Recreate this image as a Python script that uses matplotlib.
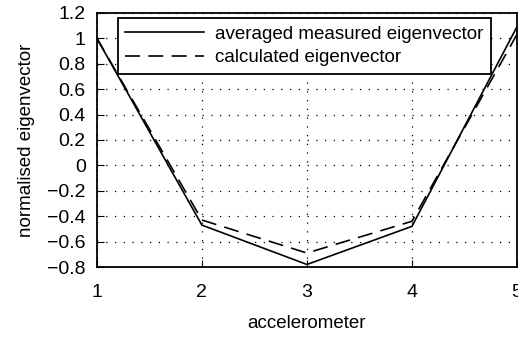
import matplotlib
matplotlib.use("Agg")
import matplotlib.pyplot as plt

plt.rcParams['font.family'] = ['Liberation Sans', 'DejaVu Sans']

# accelerometer positions and mode shape values
accelerometer = [1, 2, 3, 4, 5]
measured = [1.0, -0.47, -0.78, -0.48, 1.09]
calculated = [1.0, -0.43, -0.69, -0.44, 1.03]

fig = plt.figure(figsize=(5.18, 3.38), dpi=100)
ax = fig.add_axes([0.187, 0.21, 0.811, 0.752])

ax.plot(accelerometer, measured, color='black', lw=1.2, ls='-',
        label='averaged measured eigenvector')
ax.plot(accelerometer, calculated, color='black', lw=1.2, ls=(0, (9, 5)),
        label='calculated eigenvector')

ax.set_xlim(1, 5)
ax.set_ylim(-0.8, 1.2)
ax.set_xticks([1, 2, 3, 4, 5])
ax.set_yticks([-0.8, -0.6, -0.4, -0.2, 0, 0.2, 0.4, 0.6, 0.8, 1, 1.2])
ax.set_yticklabels(['\u22120.8', '\u22120.6', '\u22120.4', '\u22120.2', '0',
                    '0.2', '0.4', '0.6', '0.8', '1', '1.2'])
ax.grid(True, color='black', ls=(0, (1, 6)), lw=0.9)
ax.tick_params(direction='in', labelsize=14, length=5, color='black')
ax.tick_params(axis='x', pad=12)
ax.tick_params(axis='y', pad=8)
for s in ax.spines.values():
    s.set_linewidth(1.3)

ax.set_xlabel('accelerometer', fontsize=13.5, labelpad=10)
ax.set_ylabel('normalised eigenvector', fontsize=13.5, labelpad=9)

leg = ax.legend(loc='upper left', bbox_to_anchor=(0.05, 0.98), fontsize=13.5,
                fancybox=False, framealpha=1, edgecolor='black',
                handlelength=4.2, handletextpad=0.6, borderpad=0.4,
                labelspacing=0.35, borderaxespad=0)
leg.get_frame().set_linewidth(1.3)

fig.savefig('out.png', dpi=100)
